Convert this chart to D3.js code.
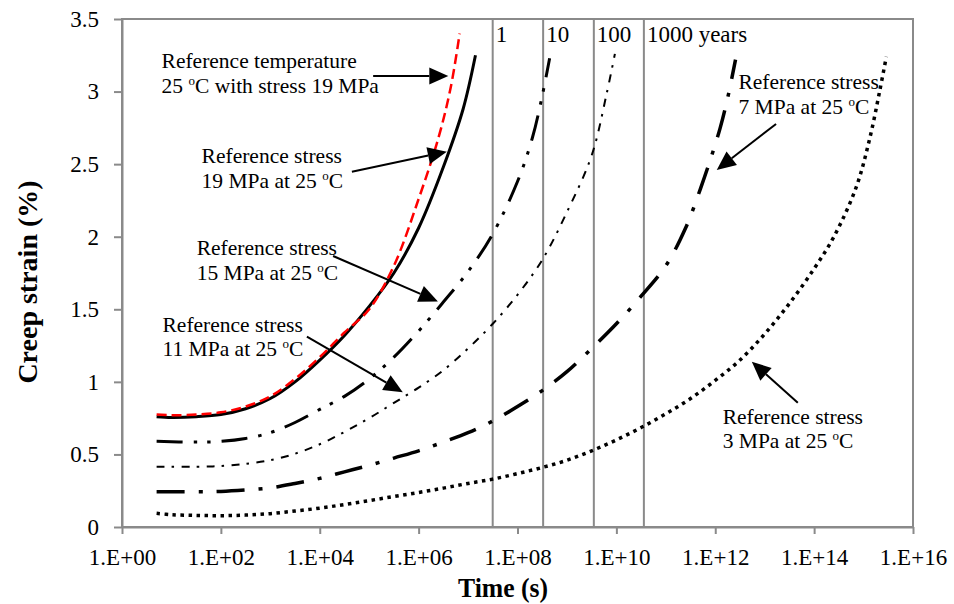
<!DOCTYPE html>
<html>
<head>
<meta charset="utf-8">
<script src="https://cdn.jsdelivr.net/npm/d3@7"></script>
<style>
  body { margin: 0; background: #fff; }
  svg { display: block; }
</style>
</head>
<body>
<svg id="chart" width="954" height="604"></svg>
<script>
// Creep strain master curves: [log10 time (s), creep strain (%)]
const temp19 = [[0.7,0.775],[1.0,0.77],[1.5,0.775],[2.0,0.79],[2.5,0.83],[3.0,0.90],[3.5,1.02],[4.0,1.17],[4.5,1.34],[5.0,1.50],[5.5,1.80],[6.0,2.26],[6.4,2.68],[6.65,3.03],[6.83,3.40]];
const stress19 = [[0.7,0.76],[1.0,0.755],[1.5,0.76],[2.0,0.775],[2.5,0.815],[3.0,0.885],[3.5,1.00],[4.0,1.15],[4.5,1.32],[5.0,1.52],[5.5,1.75],[6.0,2.06],[6.5,2.48],[6.9,2.88],[7.15,3.25]];
const stress15 = [[0.7,0.59],[1.5,0.585],[2.0,0.59],[2.5,0.61],[3.0,0.65],[3.5,0.72],[4.0,0.81],[4.5,0.90],[5.0,1.02],[5.5,1.17],[6.0,1.35],[6.5,1.55],[7.0,1.76],[7.5,2.02],[8.0,2.38],[8.3,2.68],[8.5,2.97],[8.65,3.23]];
const stress11 = [[0.7,0.415],[1.5,0.415],[2.0,0.42],[2.5,0.435],[3.0,0.46],[3.5,0.505],[4.0,0.57],[4.5,0.655],[5.0,0.75],[5.5,0.855],[6.0,0.96],[6.5,1.08],[7.0,1.23],[7.5,1.40],[8.0,1.60],[8.5,1.84],[9.0,2.17],[9.5,2.56],[9.8,2.98],[9.97,3.26]];
const stress7 = [[0.7,0.243],[1.5,0.243],[2.0,0.245],[2.5,0.255],[3.0,0.27],[3.5,0.30],[4.0,0.335],[4.5,0.38],[5.0,0.425],[5.5,0.475],[6.0,0.525],[6.5,0.585],[7.0,0.65],[7.5,0.73],[8.0,0.83],[8.5,0.94],[9.0,1.07],[9.5,1.23],[10.0,1.40],[10.5,1.59],[11.0,1.80],[11.4,2.06],[11.7,2.33],[11.9,2.53],[12.1,2.75],[12.26,2.97],[12.41,3.22]];
const stress3 = [[0.7,0.094],[1.0,0.085],[1.5,0.08],[2.0,0.078],[2.5,0.082],[3.0,0.092],[3.5,0.11],[4.0,0.13],[4.5,0.155],[5.0,0.182],[5.5,0.21],[6.0,0.238],[6.5,0.268],[7.0,0.30],[7.5,0.33],[8.0,0.368],[8.5,0.41],[9.0,0.46],[9.5,0.525],[10.0,0.60],[10.5,0.685],[11.0,0.78],[11.5,0.885],[12.0,1.01],[12.5,1.15],[13.0,1.33],[13.5,1.54],[14.0,1.78],[14.4,2.0],[14.85,2.34],[15.12,2.67],[15.33,3.01],[15.46,3.24]];

// Axis ticks
const xTickValues = [1e0, 1e2, 1e4, 1e6, 1e8, 1e10, 1e12, 1e14, 1e16];
const xTickLabels = ["1.E+00","1.E+02","1.E+04","1.E+06","1.E+08","1.E+10","1.E+12","1.E+14","1.E+16"];
const yTickValues = [0, 0.5, 1, 1.5, 2, 2.5, 3, 3.5];
const yTickLabels = ["0","0.5","1","1.5","2","2.5","3","3.5"];

// Service-life markers (seconds)
const yearMarks = [3.15e7, 3.3e8, 3.5e9, 3.6e10];
const yearLabels = ["1", "10", "100", "1000 years"];

// Callouts in data units: text anchor and arrow (log10 s, strain %)
const callouts = [
  { lines: ["Reference temperature", "25 ^oC with stress 19 MPa"], text: [0.80, 3.160], from: [5.08, 3.107], to: [6.60, 3.107] },
  { lines: ["Reference stress", "19 MPa at 25 ^oC"], text: [1.61, 2.506], from: [4.65, 2.448], to: [6.57, 2.586] },
  { lines: ["Reference stress", "15 MPa at 25 ^oC"], text: [1.51, 1.874], from: [4.27, 1.867], to: [6.39, 1.554] },
  { lines: ["Reference stress", "11 MPa at 25 ^oC"], text: [0.82, 1.346], from: [3.74, 1.311], to: [5.68, 0.929] },
  { lines: ["Reference stress", "7 MPa at 25 ^oC"], text: [12.47, 3.016], from: [13.23, 2.777], to: [12.03, 2.460] },
  { lines: ["Reference stress", "3 MPa at 25 ^oC"], text: [12.15, 0.710], from: [13.67, 0.856], to: [12.74, 1.139] }
];

const serif = "'Liberation Serif', 'Times New Roman', Times, serif";
const axisGrey = "#8a8a8a";
const plotL = 122, plotR = 913, plotT = 19, plotB = 527;

const svg = d3.select("#chart");
const x = d3.scaleLog().domain([1, 1e16]).range([plotL, plotR]);
const y = d3.scaleLinear().domain([0, 3.5]).range([plotB, plotT]);
const xe = e => x(Math.pow(10, e));

// Plot frame
svg.append("rect")
  .attr("x", plotL).attr("y", plotT)
  .attr("width", plotR - plotL).attr("height", plotB - plotT)
  .attr("fill", "none").attr("stroke", axisGrey).attr("stroke-width", 2);

// Year markers
const yg = svg.append("g");
yg.selectAll("line").data(yearMarks).join("line")
  .attr("x1", d => x(d)).attr("x2", d => x(d))
  .attr("y1", plotT).attr("y2", plotB)
  .attr("stroke", axisGrey).attr("stroke-width", 2);
yg.selectAll("text").data(yearMarks).join("text")
  .attr("x", d => x(d) + 3).attr("y", 42)
  .attr("font-family", serif).attr("font-size", 23)
  .text((d, i) => yearLabels[i]);

// Axes
const xAxis = d3.axisBottom(x).tickValues(xTickValues)
  .tickFormat((d, i) => xTickLabels[i]).tickSize(7).tickSizeOuter(0).tickPadding(15);
const yAxis = d3.axisLeft(y).tickValues(yTickValues)
  .tickFormat((d, i) => yTickLabels[i]).tickSize(8).tickSizeOuter(0).tickPadding(15);

function styleAxis(g) {
  g.attr("font-family", serif).attr("font-size", 23);
  g.select(".domain").attr("stroke", axisGrey).attr("stroke-width", 2);
  g.selectAll(".tick line").attr("stroke", axisGrey).attr("stroke-width", 2);
  g.selectAll(".tick text").attr("fill", "#000");
}
svg.append("g").attr("transform", `translate(0,${plotB})`).call(xAxis).call(styleAxis);
svg.append("g").attr("transform", `translate(${plotL},0)`).call(yAxis).call(styleAxis);

// Axis titles
svg.append("text")
  .attr("x", 503).attr("y", 597)
  .attr("text-anchor", "middle")
  .attr("font-family", serif).attr("font-size", 27).attr("font-weight", "bold")
  .attr("textLength", 90).attr("lengthAdjust", "spacingAndGlyphs")
  .text("Time (s)");
svg.append("text")
  .attr("transform", "translate(37,282) rotate(-90)")
  .attr("text-anchor", "middle")
  .attr("font-family", serif).attr("font-size", 28).attr("font-weight", "bold")
  .text("Creep strain (%)");

// Curves
const line = d3.line().x(d => xe(d[0])).y(d => y(d[1])).curve(d3.curveCatmullRom.alpha(0.5));
const seriesDefs = [
  { data: stress3,  width: 3.5, dash: "3.5,4.5" },
  { data: stress7,  width: 3.5, dash: "28,14,4,14" },
  { data: stress11, width: 2,   dash: "8,7,2.5,7.5" },
  { data: stress15, width: 3,   dash: "26,11,3.5,10,3.5,11" },
  { data: stress19, width: 3,   dash: null },
  { data: temp19,   width: 2.5, dash: "10,5", color: "#ff0000" }
];
svg.append("g").selectAll("path").data(seriesDefs).join("path")
  .attr("d", d => line(d.data))
  .attr("fill", "none")
  .attr("stroke", d => d.color || "#000")
  .attr("stroke-width", d => d.width)
  .attr("stroke-dasharray", d => d.dash);

// Callouts
const cg = svg.append("g");
callouts.forEach(c => {
  const t = cg.append("text")
    .attr("font-family", serif).attr("font-size", 21.5).attr("fill", "#000");
  c.lines.forEach((ln, i) => {
    const parts = ln.split("^o");
    t.append("tspan")
      .attr("x", xe(c.text[0]))
      .attr("y", y(c.text[1]) + i * 24.5)
      .text(parts[0]);
    if (parts.length > 1) {
      t.append("tspan").attr("font-size", 13).attr("dy", -8).text("o");
      t.append("tspan").attr("dy", 8).text(parts[1]);
    }
  });
  const x1 = xe(c.from[0]), y1 = y(c.from[1]);
  const x2 = xe(c.to[0]), y2 = y(c.to[1]);
  const ang = Math.atan2(y2 - y1, x2 - x1);
  const hl = 19, hw = 8.5;
  const bx = x2 - hl * Math.cos(ang), by = y2 - hl * Math.sin(ang);
  cg.append("line")
    .attr("x1", x1).attr("y1", y1).attr("x2", bx).attr("y2", by)
    .attr("stroke", "#000").attr("stroke-width", 2);
  cg.append("path")
    .attr("d", `M${x2},${y2}L${bx - hw * Math.sin(ang)},${by + hw * Math.cos(ang)}L${bx + hw * Math.sin(ang)},${by - hw * Math.cos(ang)}Z`)
    .attr("fill", "#000");
});
</script>
</body>
</html>
